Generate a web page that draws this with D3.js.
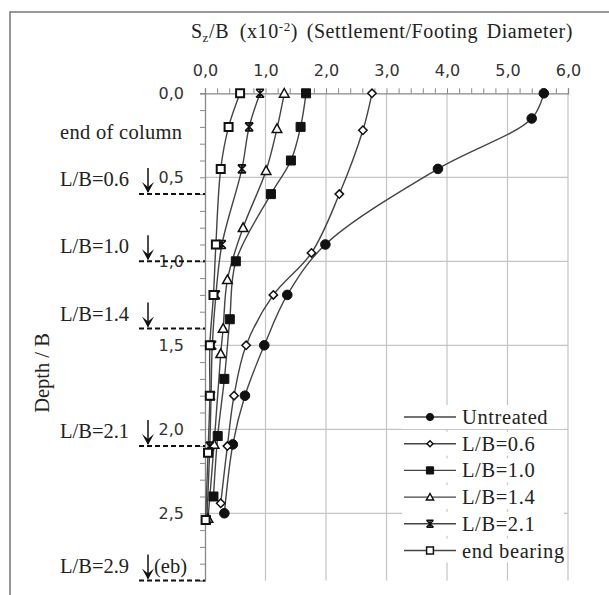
<!DOCTYPE html>
<html>
<head>
<meta charset="utf-8">
<script src="https://cdn.jsdelivr.net/npm/d3@7"></script>
<style>
body{margin:0;background:#fff;}
.serif{font-family:"Liberation Serif","Times New Roman",serif;fill:#222;}
.tick text{font-family:"DejaVu Sans",sans-serif;font-size:16px;fill:#333;}
</style>
</head>
<body>
<svg id="chart" width="609" height="595"></svg>
<script>
// settlement S/B (x10^-2) vs depth/B
var xTicks = [0,1,2,3,4,5,6];
var yTicks = [0,0.5,1,1.5,2,2.5];
var seriesNames = ["Untreated","L/B=0.6","L/B=1.0","L/B=1.4","L/B=2.1","end bearing"];

var untreatedDepth = [0,0.15,0.45,0.9,1.2,1.5,1.8,2.09,2.5];
var untreatedS     = [5.60,5.40,3.85,1.99,1.36,0.98,0.66,0.46,0.32];
var lb06Depth = [0,0.22,0.6,0.95,1.2,1.5,1.8,2.1,2.44];
var lb06S     = [2.76,2.61,2.22,1.76,1.13,0.68,0.48,0.37,0.26];
var lb10Depth = [0,0.2,0.4,0.6,1.0,1.345,1.7,2.04,2.4];
var lb10S     = [1.67,1.58,1.42,1.09,0.51,0.41,0.32,0.21,0.14];
var lb14Depth = [0,0.21,0.46,0.8,1.11,1.4,1.55,2.09,2.53];
var lb14S     = [1.31,1.19,1.01,0.63,0.37,0.30,0.26,0.15,0.05];
var lb21Depth = [0,0.2,0.45,0.9,1.2,1.5,1.8,2.1,2.54];
var lb21S     = [0.91,0.73,0.61,0.28,0.18,0.12,0.10,0.08,0.03];
var ebDepth = [0,0.2,0.45,0.9,1.2,1.5,1.8,2.14,2.54];
var ebS     = [0.58,0.39,0.26,0.18,0.14,0.08,0.08,0.05,0.01];

var columnLB = [0.6,1.0,1.4,2.1,2.9];
var columnLabels = ["L/B=0.6","L/B=1.0","L/B=1.4","L/B=2.1","L/B=2.9"];

var svg = d3.select("#chart");

var x = d3.scaleLinear().domain([0,6]).range([205,568]);
var y = d3.scaleLinear().domain([0,2.9]).range([93.3,580.5]);
var comma = function(d){ return d3.format(".1f")(d).replace(".", ","); };

// outer frame (left + top)
svg.append("path").attr("d","M10,595V12H609")
  .attr("fill","none").attr("stroke","#777").attr("stroke-width",1.5);

// grid
svg.append("g").selectAll("line").data(xTicks.slice(1)).enter().append("line")
  .attr("x1",x).attr("x2",x).attr("y1",y(0)).attr("y2",y(2.9))
  .attr("stroke","#c4c4c4").attr("stroke-width",1.2);
svg.append("g").selectAll("line").data(yTicks.slice(1)).enter().append("line")
  .attr("x1",x(0)).attr("x2",x(6)).attr("y1",y).attr("y2",y)
  .attr("stroke","#c4c4c4").attr("stroke-width",1.2);

// top axis: minor ticks, then labels
var topMinor = svg.append("g").attr("transform","translate(0,"+y(0)+")")
  .call(d3.axisTop(x).tickValues(d3.range(0,6.01,0.2)).tickSize(5).tickFormat(""));
var topLab = svg.append("g").attr("transform","translate(0,"+y(0)+")")
  .call(d3.axisTop(x).tickValues(xTicks).tickSize(0).tickPadding(17).tickFormat(comma));
topLab.select(".domain").remove();

var leftMinor = svg.append("g").attr("transform","translate("+x(0)+",0)")
  .call(d3.axisLeft(y).tickValues(d3.range(0,2.95,0.1)).tickSize(5).tickFormat(""));
var leftLab = svg.append("g").attr("transform","translate("+x(0)+",0)")
  .call(d3.axisLeft(y).tickValues(yTicks).tickSize(0).tickPadding(21).tickFormat(comma));
leftLab.select(".domain").remove();
svg.selectAll(".domain").attr("stroke","#888").attr("stroke-width",1.3);
svg.selectAll(".tick line").attr("stroke","#888");

// titles
var title = svg.append("text").attr("class","serif").attr("x",382).attr("y",38)
  .attr("text-anchor","middle").style("font-size","20px").style("letter-spacing","0.6px");
title.append("tspan").text("S");
title.append("tspan").text("z").attr("dy",4).style("font-size","13px");
title.append("tspan").text("/B  (x10").attr("dy",-4).style("word-spacing","5px");
title.append("tspan").text("-2").attr("dy",-7).style("font-size","13px");
title.append("tspan").text(")  (Settlement/Footing Diameter)").attr("dy",7).style("word-spacing","3px");

svg.append("text").attr("class","serif").attr("transform","translate(49,373) rotate(-90)")
  .attr("text-anchor","middle").style("font-size","20.5px").text("Depth / B");

svg.append("text").attr("class","serif").attr("x",60).attr("y",139)
  .style("font-size","20.5px").style("letter-spacing","0.3px").text("end of column");

// column-length markers
var ann = svg.append("g").selectAll("g").data(columnLB).enter().append("g");
ann.append("line").attr("x1",139).attr("x2",x(0)).attr("y1",y).attr("y2",y)
  .attr("stroke","#111").attr("stroke-width",2).attr("stroke-dasharray","5,3");
ann.append("line").attr("x1",148).attr("x2",148)
  .attr("y1",function(d){ return y(d)-26; }).attr("y2",function(d){ return y(d)-2; })
  .attr("stroke","#111").attr("stroke-width",1.5);
ann.append("path")
  .attr("d",function(d){ var b=y(d)-1; return "M142,"+(b-11)+"L148,"+b+"L154,"+(b-11)+"L148,"+(b-6)+"Z"; })
  .attr("fill","#111");
ann.append("text").attr("class","serif").attr("x",60)
  .attr("y",function(d){ return y(d)-8; }).style("font-size","20.5px")
  .text(function(d,i){ return columnLabels[i]; });
svg.append("text").attr("class","serif").attr("x",154).attr("y",y(2.9)-8)
  .style("font-size","20.5px").text("(eb)");

// marker shapes
function circle(s){ return d3.symbol(d3.symbolCircle, s*s*3.14)(); }
function square(s){ return "M"+(-s)+","+(-s)+"h"+2*s+"v"+2*s+"h"+(-2*s)+"Z"; }
function diamond(s){ return "M0,"+(-s)+"L"+s+",0L0,"+s+"L"+(-s)+",0Z"; }
function triangle(s){ return "M0,"+(-s)+"L"+s+","+(s*0.8)+"L"+(-s)+","+(s*0.8)+"Z"; }
function star(s){ return "M"+(-s)+","+(-s)+"L"+s+","+s+"M"+s+","+(-s)+"L"+(-s)+","+s+"M0,"+(-s)+"V"+s+"M"+(-s)+","+(-s)+"H"+s+"M"+(-s)+","+s+"H"+s; }

var series = [
  {name:seriesNames[0], depth:untreatedDepth, s:untreatedS, shape:circle, size:4.8, lsize:3.6, fill:"#111", sw:1},
  {name:seriesNames[1], depth:lb06Depth, s:lb06S, shape:diamond, size:4.2, lsize:3, fill:"#fff", sw:1.5},
  {name:seriesNames[2], depth:lb10Depth, s:lb10S, shape:square, size:4.5, lsize:3.6, fill:"#111", sw:1},
  {name:seriesNames[3], depth:lb14Depth, s:lb14S, shape:triangle, size:4.8, lsize:3.6, fill:"#fff", sw:1.5},
  {name:seriesNames[4], depth:lb21Depth, s:lb21S, shape:star, size:4, lsize:3.5, fill:"none", sw:1.6},
  {name:seriesNames[5], depth:ebDepth, s:ebS, shape:square, size:4, lsize:3.4, fill:"#fff", sw:2}
];

var line = d3.line().x(function(d){ return x(d[1]); }).y(function(d){ return y(d[0]); })
  .curve(d3.curveCatmullRom.alpha(0.5));

series.forEach(function(sr){
  sr.pts = d3.zip(sr.depth, sr.s);
  svg.append("path").datum(sr.pts).attr("d",line)
    .attr("fill","none").attr("stroke","#444").attr("stroke-width",1.4);
});
series.forEach(function(sr){
  svg.append("g").selectAll("path").data(sr.pts).enter().append("path")
    .attr("transform",function(d){ return "translate("+x(d[1])+","+y(d[0])+")"; })
    .attr("d",sr.shape(sr.size)).attr("fill",sr.fill)
    .attr("stroke","#111").attr("stroke-width",sr.sw);
});

// legend
var leg = svg.append("g").selectAll("g").data(series).enter().append("g")
  .attr("transform",function(d,i){ return "translate(404,"+(417+i*26.7)+")"; });
leg.append("rect").attr("x",-2).attr("y",-12).attr("width",162).attr("height",24).attr("fill","#fff");
leg.append("line").attr("x1",0).attr("x2",52).attr("stroke","#444").attr("stroke-width",1.4);
leg.append("path").attr("transform","translate(26,0)")
  .attr("d",function(d){ return d.shape(d.lsize); }).attr("fill",function(d){ return d.fill; })
  .attr("stroke","#111").attr("stroke-width",function(d){ return Math.min(d.sw,1.5); });
leg.append("text").attr("class","serif").attr("x",58).attr("y",7)
  .style("font-size","20.5px").style("letter-spacing","0.6px").text(function(d){ return d.name; });
</script>
</body>
</html>
